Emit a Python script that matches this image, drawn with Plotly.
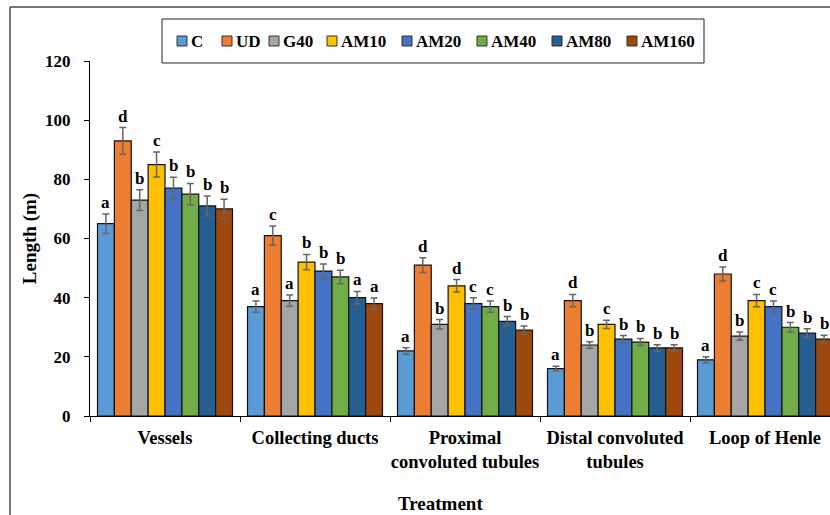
import plotly.graph_objects as go

# ---- data ----
categories = ["Vessels", "Collecting ducts", "Proximal<br>convoluted tubules",
              "Distal convoluted<br>tubules", "Loop of Henle"]
groups = ["C", "UD", "G40", "AM10", "AM20", "AM40", "AM80", "AM160"]

c_vals = [65, 37, 22, 16, 19]
ud_vals = [93, 61, 51, 39, 48]
g40_vals = [73, 39, 31, 24, 27]
am10_vals = [85, 52, 44, 31, 39]
am20_vals = [77, 49, 38, 26, 37]
am40_vals = [75, 47, 37, 25, 30]
am80_vals = [71, 40, 32, 23, 28]
am160_vals = [70, 38, 29, 23, 26]

c_err = [3.3, 1.9, 1.1, 0.8, 1.0]
ud_err = [4.5, 3.2, 2.5, 2.1, 2.4]
g40_err = [3.5, 1.9, 1.6, 1.1, 1.4]
am10_err = [4.2, 2.6, 2.1, 1.4, 2.1]
am20_err = [3.7, 2.4, 2.0, 1.2, 1.9]
am40_err = [3.6, 2.3, 1.9, 1.2, 1.6]
am80_err = [3.4, 2.1, 1.6, 1.1, 1.5]
am160_err = [3.3, 1.9, 1.4, 1.1, 1.3]

c_sig = ["a", "a", "a", "a", "a"]
ud_sig = ["d", "c", "d", "d", "d"]
g40_sig = ["b", "a", "b", "b", "b"]
am10_sig = ["c", "b", "d", "c", "c"]
am20_sig = ["b", "b", "c", "b", "c"]
am40_sig = ["b", "b", "c", "b", "b"]
am80_sig = ["b", "a", "b", "b", "b"]
am160_sig = ["b", "a", "b", "b", "b"]

y_ticks = [0, 20, 40, 60, 80, 100, 120]

values = [c_vals, ud_vals, g40_vals, am10_vals, am20_vals, am40_vals, am80_vals, am160_vals]
errors = [c_err, ud_err, g40_err, am10_err, am20_err, am40_err, am80_err, am160_err]
letters = [c_sig, ud_sig, g40_sig, am10_sig, am20_sig, am40_sig, am80_sig, am160_sig]

colors = ["#5B9BD5", "#ED7D31", "#A5A5A5", "#FFC000",
          "#4472C4", "#70AD47", "#255E91", "#9E480E"]

# ---- layout geometry (pixels) ----
W, H = 830, 515
ML, MR, MT, MB = 90, 0, 61, 99
PW, PH = W - ML - MR, H - MT - MB
CAT_PX = 150                     # width of one category slot
BARGAP = 0.1
FONT = "Liberation Serif"


def px(x):
    return (x - ML) / PW


def py(y):
    return (H - MB - y) / PH


def bold(size):
    return dict(family=FONT, size=size, color="black", weight="bold")


fig = go.Figure()
for name, vals, errs, col in zip(groups, values, errors, colors):
    fig.add_trace(go.Bar(
        name=name, x=categories, y=vals,
        marker=dict(color=col, line=dict(color="#111111", width=1.2)),
        error_y=dict(type="data", array=errs, visible=True,
                     color="#666666", thickness=1.5, width=3.5),
        showlegend=False,
    ))

# significance letters above each error bar
n = len(groups)
slot = (1 - BARGAP) / n
annotations = []
for j, (vals, errs, sig) in enumerate(zip(values, errors, letters)):
    for i, (v, e, s) in enumerate(zip(vals, errs, sig)):
        annotations.append(dict(
            x=i - (1 - BARGAP) / 2 + slot * (j + 0.5), y=v + e,
            xref="x", yref="y", text=s, showarrow=False,
            xanchor="center", yanchor="bottom", yshift=0,
            font=bold(17),
        ))

# legend box drawn as a boxed row of swatches
shapes = []
leg_x = [177, 222, 269, 327, 402, 477, 552, 627]
leg_y = 41
shapes.append(dict(type="rect", xref="paper", yref="paper",
                   x0=px(162), x1=px(704), y0=py(63), y1=py(19),
                   line=dict(color="#222222", width=1), fillcolor="white"))
for name, col, lx in zip(groups, colors, leg_x):
    shapes.append(dict(type="rect", xref="paper", yref="paper",
                       x0=px(lx), x1=px(lx + 10), y0=py(leg_y + 5), y1=py(leg_y - 5),
                       line=dict(color="#333333", width=1), fillcolor=col))
    annotations.append(dict(
        x=px(lx + 12), y=py(leg_y), xref="paper", yref="paper", text=name,
        showarrow=False, xanchor="left", yanchor="middle", font=bold(17),
    ))

# outer chart frame
shapes.append(dict(type="line", xref="paper", yref="paper",
                   x0=px(10), x1=px(10), y0=py(515), y1=py(7),
                   line=dict(color="#4a4a4a", width=1.5)))
shapes.append(dict(type="line", xref="paper", yref="paper",
                   x0=px(10), x1=px(830), y0=py(7), y1=py(7),
                   line=dict(color="#4a4a4a", width=1.5)))

# x-axis title
annotations.append(dict(
    x=px(440), y=py(503), xref="paper", yref="paper", text="Treatment",
    showarrow=False, xanchor="center", yanchor="middle", font=bold(19),
))

fig.update_layout(
    width=W, height=H,
    margin=dict(l=ML, r=MR, t=MT, b=MB, pad=0, autoexpand=False),
    paper_bgcolor="white", plot_bgcolor="white",
    barmode="group", bargap=BARGAP, bargroupgap=0,
    font=dict(family=FONT, size=17, color="black"),
    shapes=shapes, annotations=annotations,
    showlegend=False,
)
fig.update_xaxes(
    range=[-0.5, -0.5 + PW / CAT_PX], autorange=False, automargin=False,
    showline=True, linecolor="black", linewidth=1.2,
    ticks="outside", tickson="boundaries", ticklen=5, tickcolor="black",
    tickfont=bold(18.5), ticklabelstandoff=5, tickangle=0,
    showgrid=False, zeroline=False,
)
fig.update_yaxes(
    range=[0, 120], autorange=False, tickvals=y_ticks, automargin=False,
    showline=True, linecolor="black", linewidth=1.2,
    ticks="outside", ticklen=5, tickcolor="black",
    tickfont=bold(17), ticklabelstandoff=10,
    showgrid=False, zeroline=False,
    title=dict(text="Length (m)", standoff=3, font=bold(19)),
)

fig.write_html("out.html")
